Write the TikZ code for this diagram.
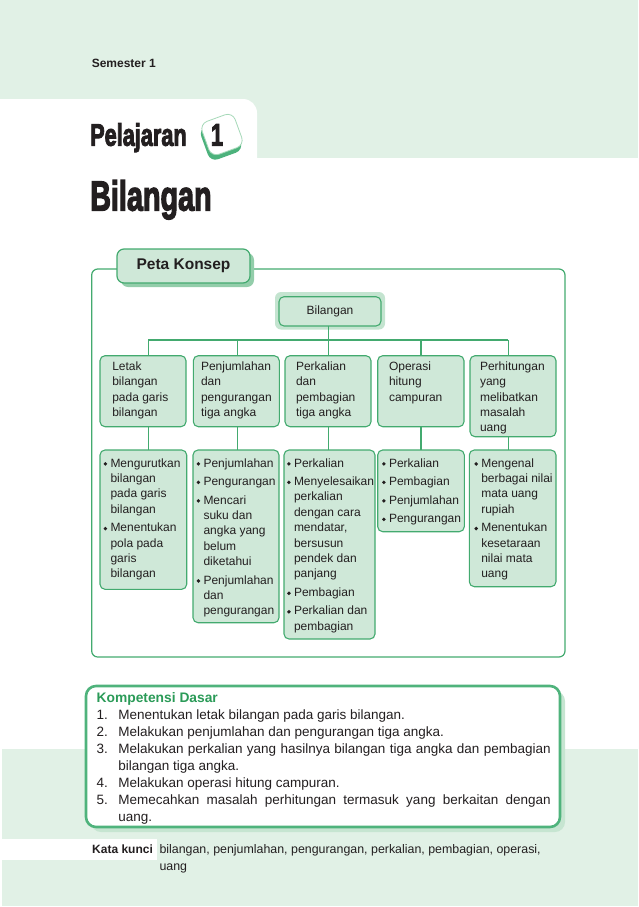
\documentclass[tikz,border=0pt]{standalone}
\usepackage{fontspec}
\setmainfont{Liberation Sans}
\newfontfamily\heavy{Liberation Sans}[BoldFeatures={FakeBold=3.5}]
\definecolor{band}{HTML}{E1F1E6}
\definecolor{boxfill}{HTML}{CFE8D8}
\definecolor{gstroke}{HTML}{43AA6F}
\definecolor{pkshadow}{HTML}{93CDAA}
\definecolor{bilshadow}{HTML}{C4E4D0}
\definecolor{kdborder}{HTML}{4FB37C}
\definecolor{kdshadow}{HTML}{C6E5D1}
\definecolor{kdtitle}{HTML}{2B9B58}
\definecolor{txt}{HTML}{231F20}
\definecolor{badgeshadow}{HTML}{4CB27C}
\definecolor{badgeedge}{HTML}{A6D9B9}
\newcommand\bul{\raisebox{1.2pt}{\rotatebox{45}{\rule{2.7pt}{2.7pt}}}}
\newcommand\B{\makebox[7pt][l]{\bul}}
\newcommand\pbx[4]{\parbox[c][#1][t]{#2}{\noindent\rule{0pt}{#3}#4}}
\newcommand\kdi[2]{\hangindent=21.6pt\hangafter=1\noindent\makebox[21.6pt][l]{#1}#2\par}
\begin{document}
\begin{tikzpicture}[x=1pt,y=-1pt,
  lv/.style={draw=gstroke, fill=boxfill, line width=1.1pt, rounded corners=5pt,
    inner ysep=0pt, outer sep=0pt, anchor=north west, text=txt,
    font=\fontsize{12}{15.4}\selectfont},
  conn/.style={draw=gstroke, line width=1.1pt},
  pkbox/.style={draw=gstroke, fill=boxfill, line width=1.2pt, rounded corners=7pt,
    minimum width=133pt, minimum height=34pt, inner sep=0pt, outer sep=0pt,
    anchor=north west, text=txt, font=\bfseries\fontsize{15.5}{18}\selectfont},
  bilbox/.style={draw=gstroke, fill=boxfill, line width=1.1pt, rounded corners=5pt,
    minimum width=102pt, minimum height=29.3pt, inner sep=0pt, outer sep=0pt,
    anchor=north west, text=txt, font=\fontsize{12}{15.4}\selectfont},
  kdbox/.style={draw=kdborder, fill=white, line width=2.6pt, rounded corners=10pt,
    inner xsep=9.3pt, inner ysep=0pt, outer sep=0pt, anchor=north west, text=txt,
    font=\fontsize{13.5}{17.1}\selectfont},
  badge/.style={rectangle, rounded corners=8pt, minimum size=35pt, rotate=20, inner sep=0pt}
]
\useasboundingbox (0,0) rectangle (638,907);
% backgrounds
\fill[band] (0,0) rectangle (638,157.5);
\fill[white] (0,160) -- (0,99) -- (243,99) arc[start angle=90,end angle=0,radius=14pt] -- (257,160) -- cycle;
\fill[band] (2,749) rectangle (638,906);
\fill[white] (2,839) rectangle (157,860);

% header
\node[anchor=base west, inner sep=0pt, text=txt, font=\bfseries\fontsize{12}{14}\selectfont] (sem) at (91.6,67) {Semester 1};
\node[anchor=base west, inner sep=0pt, text=txt, font=\heavy\bfseries\fontsize{31}{31}\selectfont] (pel) at (90,145.7) {\scalebox{0.7}[1]{Pelajaran}};
\node[badge, fill=badgeshadow] (badgesh) at (221,139.5) {};
\node[badge, fill=white, draw=badgeedge, line width=0.8pt] (badgebox) at (222,134.5) {};
\node[anchor=base, inner sep=0pt, text=txt, font=\heavy\bfseries\fontsize{31}{31}\selectfont] (num) at (217,145.5) {\scalebox{0.7}[1]{1}};
\node[anchor=base west, inner sep=0pt, text=txt, font=\heavy\bfseries\fontsize{42}{42}\selectfont] (title) at (90,210.5) {\scalebox{0.685}[1]{Bilangan}};

% frame
\draw[draw=gstroke, line width=1.2pt, rounded corners=6pt] (91.7,269) rectangle (565,657);
\fill[pkshadow, rounded corners=7pt] (121,253) rectangle (254,287);
\node[pkbox] (pk) at (117,249) {Peta Konsep};

% root
\fill[bilshadow, rounded corners=6pt] (275,292) rectangle (385,329.5);
\node[bilbox] (bil) at (279,296.7) {Bilangan};

% level 2
\node[lv, inner xsep=12.3pt] (l2a) at (100,355.7) {\pbx{71pt}{61.4pt}{14.6pt}{\begin{tabular}[t]{@{}l@{}}Letak\\bilangan\\pada garis\\bilangan\end{tabular}}};
\node[lv, inner xsep=7.7pt] (l2b) at (193.3,355.7) {\pbx{71pt}{70.6pt}{14.6pt}{\begin{tabular}[t]{@{}l@{}}Penjumlahan\\dan\\pengurangan\\tiga angka\end{tabular}}};
\node[lv, inner xsep=11pt] (l2c) at (285,355.7) {\pbx{71pt}{64pt}{14.6pt}{\begin{tabular}[t]{@{}l@{}}Perkalian\\dan\\pembagian\\tiga angka\end{tabular}}};
\node[lv, inner xsep=11.3pt] (l2d) at (377.7,355.7) {\pbx{71pt}{63.7pt}{14.6pt}{\begin{tabular}[t]{@{}l@{}}Operasi\\hitung\\campuran\end{tabular}}};
\node[lv, inner xsep=10pt] (l2e) at (470,355.7) {\pbx{81pt}{66pt}{14.6pt}{\begin{tabular}[t]{@{}l@{}}Perhitungan\\yang\\melibatkan\\masalah\\uang\end{tabular}}};

% level 3
\node[lv, inner xsep=3.5pt] (l3a) at (100,450) {\pbx{139.3pt}{79.7pt}{17pt}{\begin{tabular}[t]{@{}l@{}l@{}}\B&Mengurutkan\\&bilangan\\&pada garis\\&bilangan\\[3.1pt]\B&Menentukan\\&pola pada\\&garis\\&bilangan\end{tabular}}};
\node[lv, inner xsep=3.5pt] (l3b) at (193,450) {\pbx{172.7pt}{79pt}{17pt}{\begin{tabular}[t]{@{}l@{}l@{}}\B&Penjumlahan\\[3.1pt]\B&Pengurangan\\[3.1pt]\B&Mencari\\&suku dan\\&angka yang\\&belum\\&diketahui\\[3.1pt]\B&Penjumlahan\\&dan\\&pengurangan\end{tabular}}};
\node[lv, inner xsep=3pt] (l3c) at (284,450) {\pbx{189pt}{85pt}{17pt}{\begin{tabular}[t]{@{}l@{}l@{}}\B&Perkalian\\[3.1pt]\B&Menyelesaikan\\&perkalian\\&dengan cara\\&mendatar,\\&bersusun\\&pendek dan\\&panjang\\[3.1pt]\B&Pembagian\\[3.1pt]\B&Perkalian dan\\&pembagian\end{tabular}}};
\node[lv, inner xsep=4.3pt] (l3d) at (377.7,450) {\pbx{81.7pt}{78pt}{17pt}{\begin{tabular}[t]{@{}l@{}l@{}}\B&Perkalian\\[3.1pt]\B&Pembagian\\[3.1pt]\B&Penjumlahan\\[3.1pt]\B&Pengurangan\end{tabular}}};
\node[lv, inner xsep=5pt] (l3e) at (469.3,450) {\pbx{136.7pt}{76.7pt}{17pt}{\begin{tabular}[t]{@{}l@{}l@{}}\B&Mengenal\\&berbagai nilai\\&mata uang\\&rupiah\\[3.1pt]\B&Menentukan\\&kesetaraan\\&nilai mata\\&uang\end{tabular}}};

% connectors
\coordinate (ca) at (148.3,340);
\coordinate (cb) at (237.3,340);
\coordinate (cc) at (328.5,340);
\coordinate (cd) at (421,340);
\coordinate (ce) at (508.3,340);
\draw[conn] (cc |- bil.south) -- (cc);
\draw[conn] (ca) -- (ce);
\foreach \c/\a/\b in {ca/l2a/l3a, cb/l2b/l3b, cc/l2c/l3c, cd/l2d/l3d, ce/l2e/l3e}{
  \draw[conn] (\c) -- (\c |- \a.north);
  \draw[conn] (\c |- \a.south) -- (\c |- \b.north);
}

% kompetensi dasar
\fill[kdshadow, rounded corners=10pt] (91,691) rectangle (565,832);
\node[kdbox] (kd) at (86,686) {\parbox[c][141pt][t]{455.4pt}{\leftskip=1.4pt\emergencystretch=5pt\noindent\rule{0pt}{16pt}{\color{kdtitle}\bfseries\fontsize{13.8}{17}\selectfont Kompetensi Dasar}\par
\kdi{1.}{Menentukan letak bilangan pada garis bilangan.}
\kdi{2.}{Melakukan penjumlahan dan pengurangan tiga angka.}
\kdi{3.}{Melakukan perkalian yang hasilnya bilangan tiga angka dan pembagian\linebreak bilangan tiga angka.}
\kdi{4.}{Melakukan operasi hitung campuran.}
\kdi{5.}{Memecahkan masalah perhitungan termasuk yang berkaitan dengan\linebreak uang.}}};

% kata kunci
\node[anchor=base west, inner sep=0pt, text=txt, font=\bfseries\fontsize{12}{17}\selectfont] (kk) at (92,853.5) {Kata kunci};
\node[anchor=base west, inner sep=0pt, text=txt, font=\fontsize{12.4}{17}\selectfont] (kkt) at (159.3,853.5) {\begin{tabular}[t]{@{}l@{}}bilangan, penjumlahan, pengurangan, perkalian, pembagian, operasi,\\uang\end{tabular}};
\end{tikzpicture}
\end{document}
